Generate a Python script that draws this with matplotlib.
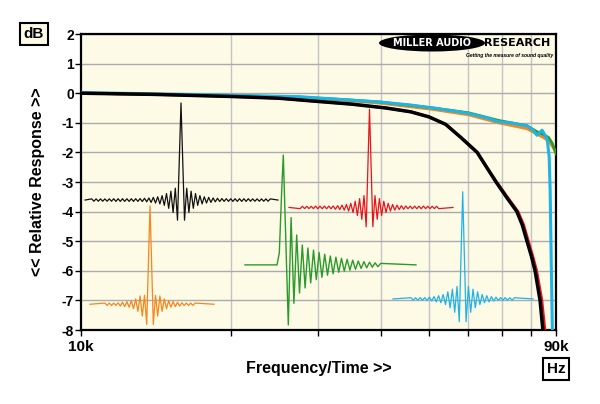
import matplotlib
matplotlib.use("Agg")
import matplotlib.pyplot as plt
from matplotlib.patches import Ellipse

plt.rcParams['font.family'] = ['Liberation Sans', 'DejaVu Sans']
plt.rcParams['axes.unicode_minus'] = False

# frequency responses (kHz, dB)
black_f = [10, 14, 20, 25, 30, 35, 41, 46, 50, 54, 58, 62.5, 65, 68.2, 71.5, 75.1, 77, 78.7, 80.3, 81.7, 83.6, 84.7]
black_db = [0.0, -0.04, -0.11, -0.17, -0.28, -0.37, -0.5, -0.63, -0.8, -1.05, -1.5, -2.0, -2.45, -3.0, -3.5, -4.0, -4.45, -5.0, -5.5, -6.0, -7.0, -8.0]
red_f = [10, 14, 20, 25, 30, 35, 41, 46, 50, 54, 58, 62.5, 65, 68.4, 71.8, 75.5, 77.5, 79.2, 80.8, 82.3, 84.3, 85.5]
red_db = black_db
cyan_f = [10, 15, 20, 27.5, 34.7, 40, 46, 51, 56, 60, 65, 69, 74, 78.7, 81, 82.4, 84.4, 86.4, 87.2, 87.6, 88.0, 88.5]
cyan_db = [0.02, -0.03, -0.07, -0.12, -0.23, -0.3, -0.4, -0.5, -0.6, -0.68, -0.82, -0.96, -1.02, -1.1, -1.25, -1.42, -1.25, -1.55, -2.15, -3.3, -5.5, -8.0]
green_f = [10, 15, 20, 27.5, 34.7, 40, 51, 60, 69, 78.7, 82.4, 85, 87, 88.5, 90]
green_db = [0.0, -0.04, -0.08, -0.13, -0.23, -0.3, -0.5, -0.66, -0.92, -1.1, -1.3, -1.4, -1.5, -1.7, -2.05]
orange_f = green_f
orange_db = [0.0, -0.05, -0.09, -0.15, -0.26, -0.34, -0.55, -0.73, -1.0, -1.2, -1.38, -1.5, -1.62, -1.8, -1.98]

y_ticks = [2, 1, 0, -1, -2, -3, -4, -5, -6, -7, -8]
y_labels = ['2', '1', '0', '-1', '-2', '-3', '-4', '-5', '-6', '-7', '-8']
x_minor = [20, 30, 40, 50, 60, 70, 80]

# impulse responses: side lobe sizes (dB) from the centre outwards
black_peak = 3.28
black_amps = [0.68, 0.4, 0.42, 0.3, 0.28, 0.22, 0.18, 0.15, 0.13, 0.11, 0.1, 0.09, 0.08, 0.07,
              0.06, 0.06, 0.05, 0.05] + [0.045] * 12 + [0.04] * 10
red_peak = 3.32
red_amps = [0.65, 0.4, 0.4, 0.3, 0.27, 0.21, 0.17, 0.14, 0.12, 0.1, 0.09, 0.08, 0.07, 0.06,
            0.06, 0.05] + [0.045] * 8 + [0.04] * 7
orange_peak = 3.32
orange_amps = [0.68, 0.3, 0.4, 0.28, 0.24, 0.18, 0.15, 0.12, 0.1, 0.09, 0.08, 0.07, 0.06, 0.05] + [0.04] * 6
cyan_peak = 3.62
cyan_amps = [0.77, 0.42, 0.45, 0.33, 0.3, 0.24, 0.19, 0.15, 0.13, 0.11, 0.1, 0.08, 0.07, 0.06,
             0.05] + [0.045] * 4 + [0.04] * 3
green_rise = [0.4, 2.5, 3.71]
green_amps = [2.03, 1.6, 1.3, 1.01, 0.95, 0.67, 0.78, 0.57, 0.61, 0.5, 0.5, 0.42, 0.42, 0.36, 0.35,
              0.3, 0.3, 0.26, 0.25, 0.22, 0.21, 0.19, 0.18, 0.16, 0.15, 0.13, 0.12, 0.11, 0.1, 0.09,
              0.08, 0.07, 0.06, 0.05]

CREAM = '#FDFAE6'
C_BLACK = '#000000'
C_RED = '#E8141B'
C_ORANGE = '#F7861B'
C_GREEN = '#2A9B2A'
C_CYAN = '#1DB4E8'


def sinc_trace(c, base, peak, amps, d0, step, x0, x1):
    left = [(c - (d0 + k * step), base + (-1) ** (k + 1) * a) for k, a in enumerate(amps)]
    right = [(c + (d0 + k * step), base + (-1) ** (k + 1) * a) for k, a in enumerate(amps)]
    pts = [(x0, base)] + left[::-1] + [(c, base + peak)] + right + [(x1, base)]
    return [p[0] for p in pts], [p[1] for p in pts]


def ring_trace(x0, xr, base, rise, rise_dx, amps, d0, step, x1):
    pts = [(x0, base), (xr, base)]
    pts += [(xr + dx, base + r) for dx, r in zip(rise_dx, rise)]
    xp = xr + rise_dx[-1]
    pts += [(xp + d0 + k * step, base + (-1) ** (k + 1) * a) for k, a in enumerate(amps)]
    pts += [(x1, base)]
    return [p[0] for p in pts], [p[1] for p in pts]


fig = plt.figure(figsize=(6, 4.04), dpi=100)
rect = [81 / 600, 74 / 404, 475 / 600, 296 / 404]
ax = fig.add_axes(rect)
ax.set_facecolor(CREAM)
ax.set_xscale('log')
ax.set_xlim(10, 90)
ax.set_ylim(-8, 2)

ax.set_yticks(y_ticks)
ax.set_yticklabels(y_labels, fontsize=10, fontweight='bold')
ax.set_xticks([10, 90])
ax.set_xticklabels(['10k', '90k'], fontsize=11, fontweight='bold')
ax.set_xticks(x_minor, minor=True)
ax.set_xticklabels([], minor=True)
ax.tick_params(axis='y', length=4, width=1, pad=1)
ax.tick_params(axis='x', which='both', length=4, width=1, pad=3)
for s in ax.spines.values():
    s.set_linewidth(1.6)
ax.grid(axis='y', which='major', color='#ABABAB', lw=1)
ax.grid(axis='x', which='minor', color='#C4C4C4', lw=1)
ax.set_axisbelow(True)

ax.plot(red_f, red_db, color=C_RED, lw=2.0, zorder=3)
ax.plot(orange_f, orange_db, color=C_ORANGE, lw=2.0, zorder=3)
ax.plot(green_f, green_db, color=C_GREEN, lw=2.0, zorder=3)
ax.plot(cyan_f, cyan_db, color=C_CYAN, lw=2.2, zorder=3)
ax.plot(black_f, black_db, color=C_BLACK, lw=2.5, zorder=4)

ax.set_ylabel('<< Relative Response >>', fontsize=11.5, fontweight='bold', labelpad=12)
ax.set_xlabel('Frequency/Time >>', fontsize=11.5, fontweight='bold', labelpad=5)

# overlay for the impulse responses, in plot-width units
ov = fig.add_axes(rect)
ov.set_xlim(0, 475)
ov.set_ylim(-8, 2)
ov.axis('off')

x, y = sinc_trace(100, -3.61, black_peak, black_amps, 3.5, 2.2, 4, 197)
ov.plot(x, y, color='#111111', lw=0.9)
x, y = sinc_trace(288.5, -3.86, red_peak, red_amps, 3.3, 2.2, 208, 372)
ov.plot(x, y, color=C_RED, lw=0.9)
x, y = sinc_trace(69, -7.13, orange_peak, orange_amps, 3.3, 2.2, 9, 133)
ov.plot(x, y, color=C_ORANGE, lw=0.9)
x, y = sinc_trace(381.7, -6.95, cyan_peak, cyan_amps, 3.4, 2.3, 312, 452)
ov.plot(x, y, color=C_CYAN, lw=0.9)
x, y = ring_trace(164, 196, -5.8, green_rise, [2.3, 4.7, 6.3], green_amps, 5.0, 2.8, 335)
ov.plot(x, y, color=C_GREEN, lw=1.0)

# unit boxes
fig.text(34 / 600, 1 - 34 / 404, 'dB', fontsize=11, fontweight='bold', ha='center', va='center',
         bbox=dict(boxstyle='square,pad=0.25', fc=CREAM, ec='black', lw=1.5))
fig.text(556 / 600, 1 - 369 / 404, 'Hz', fontsize=11, fontweight='bold', ha='center', va='center',
         bbox=dict(boxstyle='square,pad=0.25', fc='white', ec='black', lw=1.5))

# logo
fig.add_artist(Ellipse((432 / 600, 1 - 43 / 404), 106 / 600, 17 / 404, transform=fig.transFigure,
                       fc='black', ec='none'))
fig.text(432 / 600, 1 - 43 / 404, 'MILLER AUDIO', color='white', fontsize=7.0, fontweight='heavy',
         family='DejaVu Sans', ha='center', va='center')
fig.text(484 / 600, 1 - 43 / 404, 'RESEARCH', color='black', fontsize=8.0, fontweight='heavy',
         family='DejaVu Sans', ha='left', va='center')
fig.text(553 / 600, 1 - 56 / 404, 'Getting the measure of sound quality', color='black', fontsize=3.6,
         fontweight='bold', style='italic', ha='right', va='center')

fig.savefig('out.png', dpi=100, facecolor='white')
